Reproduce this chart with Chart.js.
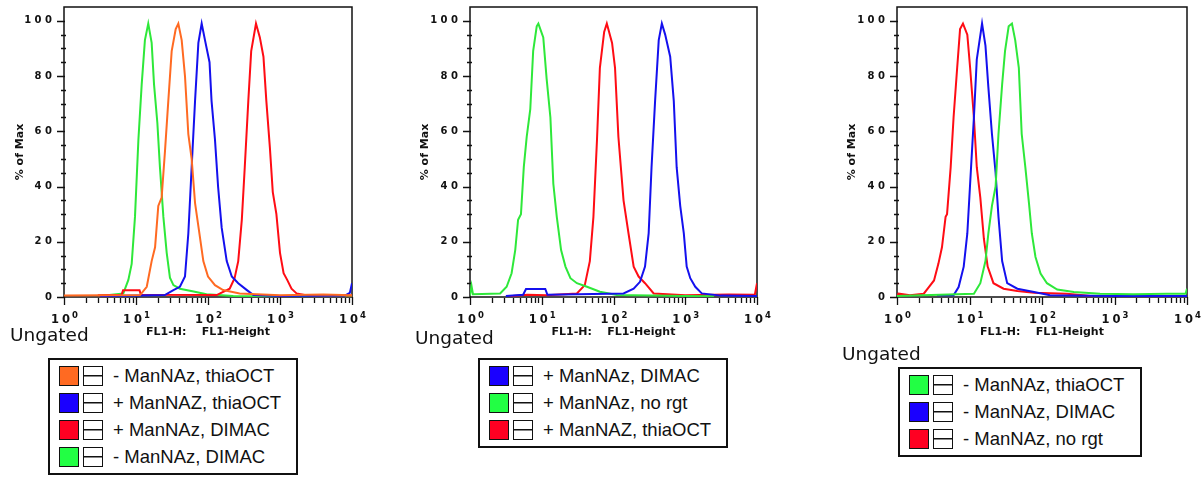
<!DOCTYPE html>
<html>
<head>
<meta charset="utf-8">
<script src="https://cdn.jsdelivr.net/npm/chart.js@4.4.1/dist/chart.umd.min.js"></script>
<style>
  body { margin: 0; background: #fff; }
  #page { position: relative; width: 1203px; height: 477px; overflow: hidden; background: #fff; }
  canvas { position: absolute; top: 0; }
  .ungated { position: absolute; font: 18.5px "DejaVu Sans", sans-serif; line-height: 19px; color: #111; }
  .legend { position: absolute; box-sizing: border-box; border: 2px solid #111; padding: 2.5px 0 2.5px 9px;
            font: 18.5px "Liberation Sans", Arial, sans-serif; color: #111; background: #fff; }
  .row { height: 27px; display: flex; align-items: center; }
  .sw { box-sizing: border-box; width: 20px; height: 20px; border: 1.5px solid #111; margin-right: 4px; }
  .bx { box-sizing: border-box; width: 20px; height: 20px; border: 1.5px solid #111; margin-right: 10px;
        background: linear-gradient(#111, #111) center / 100% 1.5px no-repeat; }
</style>
</head>
<body>
<div id="page">
  <canvas id="c1" width="400" height="345" style="left:0px"></canvas>
  <canvas id="c2" width="400" height="345" style="left:400px"></canvas>
  <canvas id="c3" width="403" height="345" style="left:800px"></canvas>
</div>
<script>
// histogram traces: [FL1-Height, % of Max]
const p1Orange = [[1, 0.5], [11.4, 0.7], [14.1, 3.7], [16.5, 13], [18.4, 18], [20.4, 33], [22.7, 36], [25.3, 53],
  [28.1, 71], [31.3, 89], [35.6, 97], [38.7, 99], [43.1, 93], [47.9, 80], [53.3, 59], [59.3, 50], [66.1, 34],
  [75, 24], [86.1, 13], [100, 7.4], [125, 4.3], [162, 2.5], [275, 1.3], [1000, 0.6], [3980, 0.9], [10000, 0.6]]
const p1Blue = [[3.16, 0.3], [25.1, 0.7], [33.1, 2.5], [40.7, 3.7], [47.9, 7.4], [53.3, 23], [59.3, 47], [66.1, 71],
  [73.5, 92], [81.7, 99], [90.8, 93], [105, 85], [112, 71], [125, 57], [138, 40], [155, 25], [182, 13], [214, 7.4],
  [263, 5], [347, 2.5], [427, 0.7], [1000, 0.4], [7940, 0.5], [9330, 1.5], [10000, 5]]
const p1Red = [[2.95, 0.6], [6.31, 0.8], [6.61, 2.4], [11.2, 2.4], [11.7, 0.8], [132, 0.7], [200, 3], [234, 6.8],
  [263, 13], [295, 28], [324, 47], [363, 71], [398, 89], [464, 99], [525, 94], [589, 87], [646, 71], [724, 54],
  [794, 38], [891, 30], [1000, 16], [1122, 8.6], [1259, 6.2], [1445, 3], [1698, 1.3], [2512, 0.5], [10000, 0.5]]
const p1Green = [[3.16, 0.4], [6.67, 1.3], [7.83, 6.2], [8.71, 12], [9.68, 29], [10.8, 57], [12, 77], [13.3, 93],
  [14.8, 99], [16.5, 92], [17.8, 77], [19.8, 63], [21.5, 47], [24, 29], [26.7, 16], [29.6, 7], [33.1, 4.3],
  [40.7, 3], [63.1, 2], [95.5, 1], [224, 0.4], [1000, 0.3], [3160, 0.4], [10000, 0.2]]

const p2Blue = [[3.16, 0.4], [5.5, 0.8], [6.03, 2.9], [11.2, 2.9], [12, 0.8], [138, 1.3], [191, 3], [234, 5.5],
  [275, 11], [309, 23], [339, 47], [380, 71], [427, 93], [472, 99], [525, 95], [617, 87], [692, 71], [759, 47],
  [851, 33], [955, 23], [1047, 11], [1175, 6.8], [1380, 3.7], [1698, 1.3], [3162, 0.5], [10000, 0.4]]
const p2Green = [[1, 0.5], [1.05, 4], [1.1, 1], [2.63, 1.3], [3.24, 3.7], [3.8, 8.6], [4.27, 17], [4.68, 28],
  [5.13, 30], [5.62, 47], [6.17, 58], [6.92, 68], [7.59, 89], [8.51, 98], [8.97, 99], [10.5, 94], [11.7, 79],
  [13.2, 65], [14.5, 41], [16.2, 29], [18.6, 17], [21.4, 11], [25.1, 6.8], [30.9, 5], [42.7, 3.7], [64.6, 1.9],
  [112, 0.7], [1000, 0.4], [2512, 0.3]]
const p2Red = [[3.55, 0.3], [6.31, 0.8], [11.7, 0.6], [30.9, 1.3], [39.8, 4.3], [46.8, 13], [52.5, 29], [58.9, 57],
  [64.6, 83], [74.1, 96], [80.7, 99], [95.5, 92], [105, 83], [117, 58], [138, 35], [162, 23], [191, 11], [224, 7.4],
  [275, 5], [363, 1.3], [1000, 0.6], [3980, 0.9], [9330, 0.8], [10000, 5]]

const p3Green = [[1, 0.4], [11.5, 1.2], [14.1, 5], [16.6, 13], [18.2, 23], [20.4, 33], [22.9, 40], [25.1, 59],
  [28.2, 77], [30.9, 89], [34.7, 98], [38.5, 99], [42.7, 93], [47.9, 83], [52.5, 59], [58.9, 47], [66.1, 34],
  [72.4, 23], [81.3, 14.5], [95.5, 8.5], [117, 5], [162, 2.7], [275, 1.8], [631, 1.2], [1820, 1], [5250, 1.2],
  [9550, 1.2], [10000, 3]]
const p3Blue = [[3.55, 0.6], [6.03, 0.6], [7.08, 3.6], [8.32, 11], [9.33, 23], [10.2, 41], [11.5, 65], [12.6, 86],
  [14.9, 99], [16.6, 91], [18.2, 76], [20.4, 59], [22.9, 45], [25.1, 29], [28.2, 13], [33.1, 5], [45.7, 3],
  [77.6, 1.8], [129, 0.6], [1000, 0.4], [10000, 0.4]]
const p3Red = [[1, 0.6], [1.05, 1.2], [1.51, 0.6], [2.34, 1.2], [2.75, 3.6], [3.24, 6], [3.72, 12], [4.17, 18],
  [4.68, 29], [4.9, 30], [5.5, 47], [6.03, 65], [6.76, 83], [7.41, 97], [8.13, 99], [9.33, 95], [10.2, 83],
  [11.5, 65], [12.6, 47], [14.1, 36], [15.8, 21], [17.8, 11], [21.4, 5], [29.5, 3], [45.7, 2.2], [77.6, 1.5],
  [219, 1.2], [372, 0.6], [501, 0.3]]

const p1Labels = ['- ManNAz, thiaOCT', '+ ManNAZ, thiaOCT', '+ ManNAz, DIMAC', '- ManNAz, DIMAC']
const p2Labels = ['+ ManNAz, DIMAC', '+ ManNAz, no rgt', '+ ManNAZ, thiaOCT']
const p3Labels = ['- ManNAz, thiaOCT', '- ManNAz, DIMAC', '- ManNAz, no rgt']

const decades = [1, 10, 100, 1000, 10000]
const yTicks = [0, 20, 40, 60, 80, 100]

const ORANGE = '#ff6a22', BLUE = '#1410ee', RED = '#ff0c14', GREEN = '#2ee83a'
const SW_ORANGE = '#ff6a22', SW_BLUE = '#1a00ff', SW_RED = '#ff0022', SW_GREEN = '#22ff44'

// frame, FlowJo-style tick marks and 10^n labels
const fcsAxes = {
  id: 'fcsAxes',
  beforeDatasetsDraw(chart) {
    const { ctx, chartArea: a, scales: { x, y } } = chart
    ctx.save()
    ctx.strokeStyle = '#111'
    ctx.lineWidth = 1.5
    ctx.strokeRect(a.left, a.top, a.right - a.left, a.bottom - a.top)

    ctx.lineWidth = 1.3
    ctx.beginPath()
    for (let v = 0; v <= 100; v += 5) {
      let py = Math.round(y.getPixelForValue(v)) + 0.5
      let major = yTicks.includes(v)
      ctx.moveTo(a.left - (major ? 7 : 3), py)
      ctx.lineTo(a.left + (major ? 1 : 2), py)
    }
    for (let d = 0; d < decades.length; d++) {
      let px = Math.round(x.getPixelForValue(decades[d])) + 0.5
      ctx.moveTo(px, a.bottom)
      ctx.lineTo(px, a.bottom + 8)
      if (d == decades.length - 1) break
      for (let m = 2; m <= 9; m++) {
        let mx = Math.round(x.getPixelForValue(decades[d] * m)) + 0.5
        ctx.moveTo(mx, a.bottom + 1)
        ctx.lineTo(mx, a.bottom + 6)
      }
    }
    ctx.stroke()

    ctx.fillStyle = '#111'
    ctx.textBaseline = 'alphabetic'
    ctx.textAlign = 'left'
    decades.forEach((v, i) => {
      let px = x.getPixelForValue(v)
      ctx.font = 'bold 11.5px "DejaVu Sans"'
      ctx.letterSpacing = '3px'
      let wb = ctx.measureText('10').width
      ctx.font = 'bold 8.5px "DejaVu Sans"'
      ctx.letterSpacing = '0px'
      let ws = ctx.measureText(String(i)).width
      let left = px - (wb + ws) / 2 + 1
      ctx.font = 'bold 11.5px "DejaVu Sans"'
      ctx.letterSpacing = '3px'
      ctx.fillText('10', left, 323)
      ctx.font = 'bold 8.5px "DejaVu Sans"'
      ctx.letterSpacing = '0px'
      ctx.fillText(String(i), left + wb - 1, 318)
    })
    ctx.restore()
  }
}

function makeChart(id, series, colors, yWidth, rightPad, titleGap) {
  return new Chart(document.getElementById(id), {
    type: 'line',
    data: {
      datasets: series.map((s, i) => ({
        data: s.map(p => ({ x: p[0], y: p[1] })),
        borderColor: colors[i],
        borderWidth: 2,
        pointRadius: 0,
        tension: 0,
        fill: false
      }))
    },
    options: {
      responsive: false,
      animation: false,
      layout: { padding: { top: 7, right: rightPad, bottom: 0, left: 0 } },
      plugins: { legend: { display: false }, tooltip: { enabled: false } },
      scales: {
        x: {
          type: 'logarithmic', min: 1, max: 10000,
          grid: { display: false }, border: { display: false },
          ticks: { display: false },
          title: {
            display: true, text: 'FL1-H:    FL1-Height', color: '#111',
            font: { family: 'DejaVu Sans', size: 11, weight: 'bold' },
            padding: { top: 0, bottom: 6.4 }
          },
          afterFit: s => { s.height = 48 }
        },
        y: {
          min: 0, max: 105,
          grid: { display: false, drawTicks: true, tickLength: 12 }, border: { display: false },
          ticks: {
            stepSize: 20, padding: 0, color: '#111',
            font: { family: 'DejaVu Sans', size: 10, weight: 'bold' },
            callback: v => yTicks.includes(v) ? String(v).split('').join(' ') : ''
          },
          title: {
            display: true, text: '% of Max', color: '#111',
            font: { family: 'DejaVu Sans', size: 11, weight: 'bold' },
            padding: { top: titleGap, bottom: 0 }
          },
          afterFit: s => { s.width = yWidth; s.paddingTop = 0; s.paddingBottom = 0 }
        }
      }
    },
    plugins: [fcsAxes]
  })
}

function addLegend(labels, colors, left, top, width, ungatedLeft, ungatedTop) {
  let page = document.getElementById('page')
  let u = document.createElement('div')
  u.className = 'ungated'
  u.style.left = ungatedLeft + 'px'
  u.style.top = ungatedTop + 'px'
  u.textContent = 'Ungated'
  page.appendChild(u)

  let box = document.createElement('div')
  box.className = 'legend'
  box.style.left = left + 'px'
  box.style.top = top + 'px'
  box.style.width = width + 'px'
  labels.forEach((label, i) => {
    let row = document.createElement('div')
    row.className = 'row'
    let sw = document.createElement('span')
    sw.className = 'sw'
    sw.style.background = colors[i]
    let bx = document.createElement('span')
    bx.className = 'bx'
    let txt = document.createElement('span')
    txt.textContent = label
    row.appendChild(sw)
    row.appendChild(bx)
    row.appendChild(txt)
    box.appendChild(row)
  })
  page.appendChild(box)
}

makeChart('c1', [p1Orange, p1Blue, p1Red, p1Green], [ORANGE, BLUE, RED, GREEN], 64, 48, 13.4)
makeChart('c2', [p2Blue, p2Green, p2Red], [BLUE, GREEN, RED], 70, 43, 18.4)
makeChart('c3', [p3Green, p3Blue, p3Red], [GREEN, BLUE, RED], 97, 16, 45.4)

addLegend(p1Labels, [SW_ORANGE, SW_BLUE, SW_RED, SW_GREEN], 48, 358, 250, 10, 324.6)
addLegend(p2Labels, [SW_BLUE, SW_GREEN, SW_RED], 478, 358, 250, 415, 328.4)
addLegend(p3Labels, [SW_GREEN, SW_BLUE, SW_RED], 898, 367, 244, 842, 344.1)
</script>
</body>
</html>
